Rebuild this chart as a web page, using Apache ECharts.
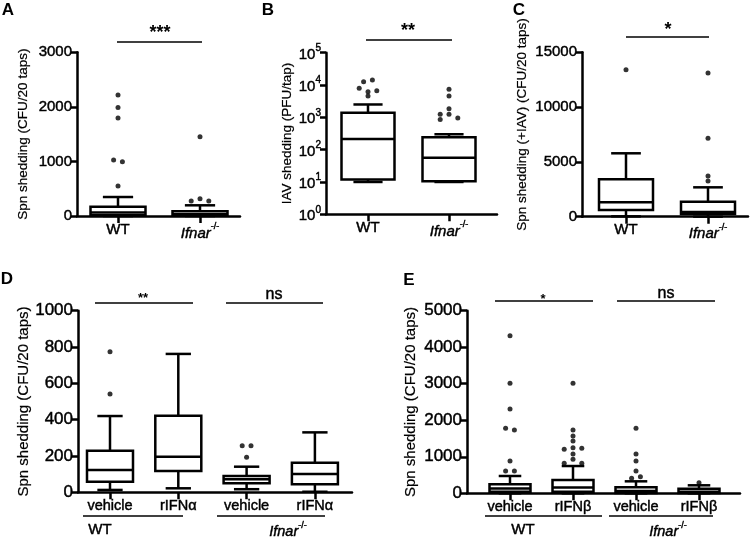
<!DOCTYPE html>
<html><head><meta charset="utf-8">
<script src="https://cdn.jsdelivr.net/npm/echarts/dist/echarts.min.js"></script>
<style>html,body{margin:0;padding:0;background:#fff}#c{width:750px;height:538px}</style>
</head><body><div id="c"></div>
<script>
// ---------- data ----------
const catsA = ['WT', 'Ifnar-/-'];
const catsB = ['WT', 'Ifnar-/-'];
const catsC = ['WT', 'Ifnar-/-'];
const catsD = ['vehicle', 'rIFNα', 'vehicle', 'rIFNα'];
const catsE = ['vehicle', 'rIFNβ', 'vehicle', 'rIFNβ'];
// box: [lower whisker, Q1, median, Q3, upper whisker]
const boxA = [[0, 15, 65, 170, 348], [0, 5, 30, 86, 196]];
const boxB = [[10, 12, 213, 1390, 2500], [10, 10.5, 56, 240, 300]];
const boxC = [[30, 611, 1314, 3412, 5785], [0, 240, 420, 1369, 2680]];
const boxD = [[13, 58, 123, 229, 420], [22, 117, 196, 422, 762], [17, 50, 72, 90, 141], [3, 44, 101, 163, 330]];
const boxE = [[0, 40, 130, 246, 474], [0, 40, 160, 364, 747], [0, 10, 60, 164, 328], [0, 10, 45, 126, 219]];
// outliers, grouped in rows of dots drawn side by side (null = empty slot)
const outA = [[[2216], [1990], [1795], [1025, 995], [550]], [[1452], [275, 317, 275]]];
const outB = [[[12600, 14300], [7900, 6200, 6650], [4560]], [[7350], [4560], [1860], [1240, 1240, 960], [850, null, null]]];
const outC = [[[13410]], [[13100], [7150], [3713], [3257]]];
const outD = [[[774], [541]], [], [[257, 257], [193]], []];
const outE = [
  [[4316], [3012], [2308], [1780, 1734], [884], [611, 611]],
  [[3012], [1734], [1570], [1433], [1205, 1250, 1232], [1076], [931], [821, null, 821]],
  [[1780], [1076], [884], [611], [411, 455]],
  [[290]]
];
const ticksB = [1, 10, 100, 1000, 10000, 100000];
const sigA = ['***'], sigB = ['**'], sigC = ['*'], sigD = ['**', 'ns'], sigE = ['*', 'ns'];
const groupsDE = ['WT', 'Ifnar-/-'];

// ---------- layout ----------
const FONT = 'Liberation Sans, Arial, Helvetica, sans-serif';
const panels = [
  {cats: catsA, boxes: boxA, outs: outA, yType: 'value', yMin: 0, yMax: 3000, yInt: 1000,
   yName: 'Spn shedding (CFU/20 taps)', x0: 77, x1: 240, y0: 52.3, y1: 216, c0: 118, s: 82, boxW: 55,
   yFont: 15, xFont: 15, nameFont: 13.5, nameGap: 47, namePad: 0},
  {cats: catsB, boxes: boxB, outs: outB, yType: 'log', yMin: 1, yMax: 100000,
   yName: 'IAV shedding (PFU/tap)', x0: 326, x1: 497, y0: 52.7, y1: 214.3, c0: 368, s: 81, boxW: 53,
   yFont: 15, xFont: 15, nameFont: 13.5, nameGap: 25, namePad: 0},
  {cats: catsC, boxes: boxC, outs: outC, yType: 'value', yMin: 0, yMax: 15000, yInt: 5000,
   yName: 'Spn shedding (+IAV) (CFU/20 taps)', x0: 582, x1: 748, y0: 52.3, y1: 216.7, c0: 626, s: 82, boxW: 54,
   yFont: 15, xFont: 15, nameFont: 13.5, nameGap: 53, namePad: 20},
  {cats: catsD, boxes: boxD, outs: outD, yType: 'value', yMin: 0, yMax: 1000, yInt: 200,
   yName: 'Spn shedding (CFU/20 taps)', x0: 78, x1: 352, y0: 310.7, y1: 492.3, c0: 110, s: 68.3, boxW: 46,
   yFont: 17, xFont: 14.5, nameFont: 15, nameGap: 46, namePad: 0},
  {cats: catsE, boxes: boxE, outs: outE, yType: 'value', yMin: 0, yMax: 5000, yInt: 1000,
   yName: 'Spn shedding (CFU/20 taps)', x0: 467, x1: 740, y0: 310.7, y1: 493.3, c0: 510, s: 63, boxW: 41,
   yFont: 17, xFont: 14.5, nameFont: 15, nameGap: 49, namePad: 0}
];

const DOT_GAP = 8.8;   // px between neighbouring dots in a row
const LW = 2.5;
const TB = 0.45;       // slight text thickening

function catLabel(name) {
  if (name.indexOf('-/-') >= 0) return '{i|' + name.replace('-/-', '') + '}{s|-/-}';
  return name;
}
function richFor(size) {
  return {
    i: {fontStyle: 'italic', fontSize: size, fontFamily: FONT, color: '#000', lineHeight: size + 4, verticalAlign: 'bottom',
        textBorderColor: '#000', textBorderWidth: TB},
    s: {fontSize: Math.round(size * 0.62), fontFamily: FONT, color: '#000', verticalAlign: 'top', lineHeight: size + 4,
        textBorderColor: '#000', textBorderWidth: TB}
  };
}
function richGraphic(size) {
  return {
    i: {fontStyle: 'italic', fontSize: size, fontFamily: FONT, fill: '#000', lineHeight: size + 4, verticalAlign: 'bottom',
        stroke: '#000', lineWidth: TB},
    s: {fontSize: Math.round(size * 0.62), fontFamily: FONT, fill: '#000', verticalAlign: 'top', lineHeight: size + 4,
        stroke: '#000', lineWidth: TB}
  };
}

function boxRender(boxW) {
  return function (params, api) {
    const x = api.value(0);
    const lo = api.coord([x, api.value(1)]);
    const q1 = api.coord([x, api.value(2)]);
    const md = api.coord([x, api.value(3)]);
    const q3 = api.coord([x, api.value(4)]);
    const hi = api.coord([x, api.value(5)]);
    const cx = q1[0], hw = boxW / 2, cw = boxW * 0.55 / 2;
    const st = {stroke: '#000', lineWidth: LW, fill: null};
    return {type: 'group', children: [
      {type: 'line', shape: {x1: cx, y1: hi[1], x2: cx, y2: q3[1]}, style: st},
      {type: 'line', shape: {x1: cx - cw, y1: hi[1], x2: cx + cw, y2: hi[1]}, style: st},
      {type: 'line', shape: {x1: cx, y1: q1[1], x2: cx, y2: lo[1]}, style: st},
      {type: 'line', shape: {x1: cx - cw, y1: lo[1], x2: cx + cw, y2: lo[1]}, style: st},
      {type: 'rect', shape: {x: cx - hw, y: q3[1], width: boxW, height: q1[1] - q3[1]}, style: {stroke: '#000', lineWidth: LW, fill: '#fff'}},
      {type: 'line', shape: {x1: cx - hw, y1: md[1], x2: cx + hw, y2: md[1]}, style: st}
    ]};
  };
}

const grid = [], xAxis = [], yAxis = [], series = [];
panels.forEach((p, k) => {
  const idx = p.cats.map((_, i) => i);
  grid.push({left: p.x0, top: p.y0, width: p.x1 - p.x0, height: p.y1 - p.y0, containLabel: false});
  xAxis.push({
    gridIndex: k, type: 'value', min: (p.x0 - p.c0) / p.s, max: (p.x1 - p.c0) / p.s,
    axisLine: {onZero: false, lineStyle: {color: '#000', width: LW}},
    splitLine: {show: false},
    axisTick: {customValues: idx, length: 7, lineStyle: {color: '#000', width: LW}},
    axisLabel: {customValues: idx, margin: 6, color: '#000', fontSize: p.xFont, fontFamily: FONT,
      textBorderColor: '#000', textBorderWidth: TB,
      formatter: v => catLabel(p.cats[Math.round(v)]), rich: richFor(p.xFont)}
  });
  const y = {
    gridIndex: k, type: p.yType, min: p.yMin, max: p.yMax,
    name: p.yName, nameLocation: 'middle', nameGap: p.nameGap, nameRotate: 90,
    nameTextStyle: {color: '#000', fontSize: p.nameFont, fontFamily: FONT, padding: [0, 0, 0, p.namePad],
      textBorderColor: '#000', textBorderWidth: 0.2},
    axisLine: {show: true, onZero: false, lineStyle: {color: '#000', width: LW}},
    splitLine: {show: false},
    axisTick: {length: 6, lineStyle: {color: '#000', width: LW}},
    axisLabel: {margin: 5, color: '#000', fontSize: p.yFont, fontFamily: FONT,
      textBorderColor: '#000', textBorderWidth: TB, formatter: v => String(v)}
  };
  if (p.yType === 'log') {
    y.logBase = 10;
    y.axisTick.customValues = ticksB;
    y.axisLabel.customValues = ticksB;
    y.axisLabel.formatter = v => '{b|10}{e|' + Math.round(Math.log10(v)) + '}';
    y.axisLabel.rich = {
      b: {fontSize: p.yFont, fontFamily: FONT, color: '#000', verticalAlign: 'bottom', lineHeight: p.yFont + 4,
          textBorderColor: '#000', textBorderWidth: TB},
      e: {fontSize: 10, fontFamily: FONT, color: '#000', verticalAlign: 'top', lineHeight: p.yFont + 4,
          textBorderColor: '#000', textBorderWidth: TB}
    };
    y.minorTick = {show: false};
  } else {
    y.interval = p.yInt;
  }
  yAxis.push(y);
  series.push({
    type: 'custom', xAxisIndex: k, yAxisIndex: k, clip: false,
    renderItem: boxRender(p.boxW),
    encode: {x: 0, y: [1, 2, 3, 4, 5]},
    data: p.boxes.map((b, i) => [i].concat(b)),
    z: 2
  });
  const pts = [];
  const gapU = DOT_GAP / p.s;
  p.outs.forEach((rows, g) => {
    rows.forEach(row => {
      const m = row.length;
      row.forEach((v, j) => {
        if (v !== null) pts.push([g + (j - (m - 1) / 2) * gapU, v]);
      });
    });
  });
  series.push({
    type: 'scatter', xAxisIndex: k, yAxisIndex: k, symbol: 'circle', symbolSize: 5,
    itemStyle: {color: '#000'}, data: pts, z: 3, clip: false
  });
});

// ---------- annotations ----------
function txt(x, y, t, size, weight) {
  return {type: 'text', x: x, y: y, style: {text: t, fontSize: size, fontWeight: weight || 'normal',
    fontFamily: FONT, fill: '#000', align: 'center', verticalAlign: 'middle',
    stroke: weight === 'bold' ? null : '#000', lineWidth: weight === 'bold' ? 0 : TB}};
}
function ln(x1, y1, x2, y2, w) {
  return {type: 'line', shape: {x1, y1, x2, y2}, style: {stroke: '#000', lineWidth: w || 1.6}};
}
function ifnarText(x, y, size) {
  return {type: 'text', x: x, y: y, style: {text: catLabel(groupsDE[1]), rich: richGraphic(size),
    fontFamily: FONT, align: 'center', verticalAlign: 'middle', fill: '#000'}};
}
const graphic = [
  txt(8, 10, 'A', 17, 'bold'), txt(268, 10, 'B', 17, 'bold'), txt(519, 10, 'C', 17, 'bold'),
  txt(7, 279, 'D', 17, 'bold'), txt(409, 280, 'E', 17, 'bold'),
  ln(117, 42, 202, 42), txt(160, 33, sigA[0], 18, 'bold'),
  ln(366, 40, 452, 40), txt(408, 31, sigB[0], 18, 'bold'),
  ln(626, 37, 709, 37), txt(668, 30, sigC[0], 18, 'bold'),
  ln(95, 303, 193, 303), txt(143, 298, sigD[0], 13, 'bold'),
  ln(226, 303, 323, 303), txt(274, 295, sigD[1], 16),
  ln(495, 301, 593, 301), txt(543, 299, sigE[0], 13, 'bold'),
  ln(617, 301, 715, 301), txt(666, 294, sigE[1], 16),
  ln(83, 516, 183, 516, 1.3), ln(217, 516, 325, 516, 1.3),
  txt(100, 530, groupsDE[0], 15), ifnarText(288, 530, 14.5),
  ln(485, 516, 602, 516, 1.3), ln(609, 516, 713, 516, 1.3),
  txt(523, 530, groupsDE[0], 15), ifnarText(668, 530, 14.5)
];

const chart = echarts.init(document.getElementById('c'), null, {renderer: 'canvas'});
chart.setOption({
  animation: false, backgroundColor: '#fff',
  textStyle: {fontFamily: FONT, color: '#000'},
  grid, xAxis, yAxis, series, graphic
});
</script></body></html>
